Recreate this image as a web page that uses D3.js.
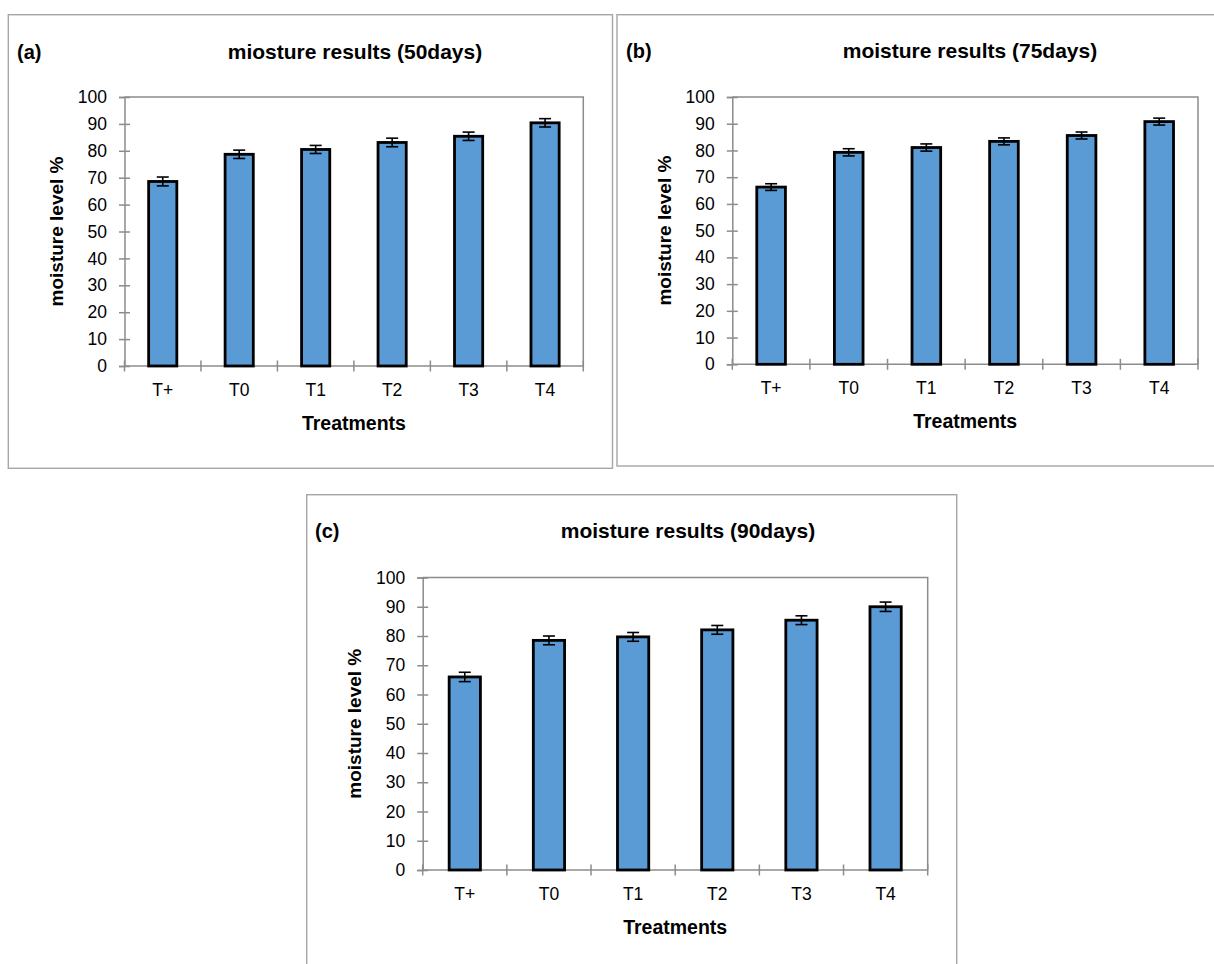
<!DOCTYPE html>
<html>
<head>
<meta charset="utf-8">
<script src="https://cdn.jsdelivr.net/npm/d3@7"></script>
<style>
  html, body { margin: 0; padding: 0; background: #fff; }
  svg { display: block; font-family: "Liberation Sans", Arial, sans-serif; }
</style>
</head>
<body>
<svg id="chart" width="1214" height="964"></svg>
<script>
// Treatments on the x axis
const treatments = ["T+", "T0", "T1", "T2", "T3", "T4"];

// Mean moisture level (%) per treatment and its error (±)
const moisture50 = [68.6, 78.7, 80.5, 83.1, 85.4, 90.4];
const error50    = [1.65, 1.55, 1.5, 1.6, 1.55, 1.55];

const moisture75 = [66.3, 79.3, 81.1, 83.4, 85.6, 90.8];
const error75    = [1.25, 1.35, 1.35, 1.3, 1.3, 1.3];

const moisture90 = [66.0, 78.5, 79.7, 82.1, 85.4, 90.0];
const error90    = [1.6, 1.5, 1.5, 1.5, 1.5, 1.6];

// Y axis tick labels
const yTicks = [0, 10, 20, 30, 40, 50, 60, 70, 80, 90, 100];

// Panel captions
const panelTags   = ["(a)", "(b)", "(c)"];
const panelTitles = ["miosture results (50days)", "moisture results (75days)", "moisture results (90days)"];
const xTitle = "Treatments";
const yTitle = "moisture level %";

// Page layout of each panel (frame box, plot box, caption anchors)
const layout = [
  { frame: [8.3, 14.7, 612.5, 468.3], plot: [124.5, 97, 583.3, 366],   tag: [17, 52],   titleX: 355 },
  { frame: [617, 14.7, 1230, 466],    plot: [732.3, 97, 1198, 364.3],  tag: [626, 51],  titleX: 970 },
  { frame: [306.7, 494.7, 956.7, 990], plot: [422.7, 577.5, 927.7, 870], tag: [315, 531], titleX: 688 }
];

const series = [
  { values: moisture50, errors: error50 },
  { values: moisture75, errors: error75 },
  { values: moisture90, errors: error90 }
];

const svg = d3.select("#chart");
svg.append("rect").attr("width", 1214).attr("height", 964).attr("fill", "#fff");

const axisGrey = "#8c8c8c";
const barBlue = "#5b9bd5";

series.forEach((s, i) => {
  const L = layout[i];
  const g = svg.append("g");

  // chart frame
  g.append("rect")
    .attr("x", L.frame[0]).attr("y", L.frame[1])
    .attr("width", L.frame[2] - L.frame[0]).attr("height", L.frame[3] - L.frame[1])
    .attr("fill", "#fff").attr("stroke", "#a6a6a6").attr("stroke-width", 1.4);

  const [x0, y0, x1, y1] = L.plot;

  const x = d3.scaleBand().domain(treatments).range([x0, x1]).paddingInner(0.6).paddingOuter(0.3);
  const y = d3.scaleLinear().domain([0, 100]).range([y1, y0]);

  // plot area border (top and right)
  g.append("path")
    .attr("d", `M${x0},${y0}H${x1}V${y1}`)
    .attr("fill", "none").attr("stroke", axisGrey).attr("stroke-width", 1.5);

  // Y axis
  const yAxis = g.append("g")
    .attr("transform", `translate(${x0},0)`)
    .call(d3.axisLeft(y).tickValues(yTicks).tickSize(5.5).tickPadding(13).tickFormat(d3.format("d")));
  yAxis.select(".domain").attr("stroke", axisGrey).attr("stroke-width", 1.5);
  yAxis.selectAll(".tick line").attr("stroke", axisGrey).attr("stroke-width", 1.5).attr("x2", 5.5).attr("x1", -5.5);
  yAxis.selectAll(".tick text").attr("font-size", 17.5).attr("fill", "#000").attr("x", -17.5);

  // X axis: ticks sit on band boundaries
  const xAxis = g.append("g").attr("transform", `translate(0,${y1})`);
  xAxis.append("line").attr("x1", x0).attr("x2", x1)
    .attr("stroke", axisGrey).attr("stroke-width", 1.5);
  const step = x.step();
  const bounds = d3.range(treatments.length + 1).map(k => x0 + k * step);
  xAxis.selectAll("line.tk").data(bounds).join("line").attr("class", "tk")
    .attr("x1", d => d).attr("x2", d => d).attr("y1", -5.5).attr("y2", 5.5)
    .attr("stroke", axisGrey).attr("stroke-width", 1.5);
  xAxis.selectAll("text").data(treatments).join("text")
    .attr("x", d => x(d) + x.bandwidth() / 2).attr("y", 24)
    .attr("text-anchor", "middle").attr("dominant-baseline", "central")
    .attr("font-size", 17.5).attr("fill", "#000").text(d => d);

  // Bars
  const data = treatments.map((t, k) => ({ t, v: s.values[k], e: s.errors[k] }));
  g.selectAll("rect.bar").data(data).join("rect").attr("class", "bar")
    .attr("x", d => x(d.t) + 1.2).attr("width", x.bandwidth() - 2.4)
    .attr("y", d => y(d.v)).attr("height", d => y(0) - y(d.v))
    .attr("fill", barBlue).attr("stroke", "#000").attr("stroke-width", 2.8);

  // Error bars
  const eb = g.selectAll("g.err").data(data).join("g").attr("class", "err")
    .attr("stroke", "#000").attr("stroke-width", 1.6);
  eb.append("line")
    .attr("x1", d => x(d.t) + x.bandwidth() / 2).attr("x2", d => x(d.t) + x.bandwidth() / 2)
    .attr("y1", d => y(d.v + d.e)).attr("y2", d => y(d.v - d.e));
  [1, -1].forEach(sign => {
    eb.append("line")
      .attr("x1", d => x(d.t) + x.bandwidth() / 2 - 6).attr("x2", d => x(d.t) + x.bandwidth() / 2 + 6)
      .attr("y1", d => y(d.v + sign * d.e)).attr("y2", d => y(d.v + sign * d.e));
  });

  // Captions
  g.append("text").attr("x", L.tag[0]).attr("y", L.tag[1])
    .attr("dominant-baseline", "central").attr("font-size", 20).attr("font-weight", "bold")
    .text(panelTags[i]);
  g.append("text").attr("x", L.titleX).attr("y", L.tag[1] - 1)
    .attr("text-anchor", "middle").attr("dominant-baseline", "central")
    .attr("font-size", 21).attr("font-weight", "bold").text(panelTitles[i]);
  g.append("text").attr("x", (x0 + x1) / 2).attr("y", y1 + 57)
    .attr("text-anchor", "middle").attr("dominant-baseline", "central")
    .attr("font-size", 19.5).attr("font-weight", "bold").text(xTitle);
  g.append("text")
    .attr("transform", `translate(${x0 - 68},${(y0 + y1) / 2}) rotate(-90)`)
    .attr("text-anchor", "middle").attr("dominant-baseline", "central")
    .attr("font-size", 19).attr("font-weight", "bold").text(yTitle);
});
</script>
</body>
</html>
